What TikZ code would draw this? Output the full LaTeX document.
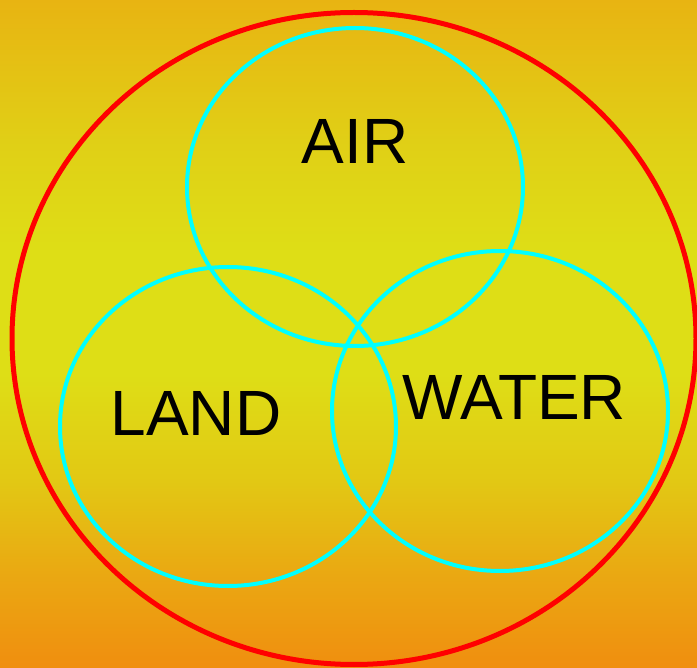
\documentclass[tikz,border=0pt]{standalone}
\usepackage{fontspec}
\setmainfont{Liberation Sans}
\definecolor{ringcyan}{HTML}{00FFFF}
\pgfdeclareverticalshading{bgshade}{100bp}{%
  rgb(0bp)=(0.941,0.557,0.059);
  rgb(25bp)=(0.941,0.557,0.059);
  rgb(32bp)=(0.918,0.659,0.071);
  rgb(39bp)=(0.886,0.784,0.078);
  rgb(47bp)=(0.871,0.871,0.086);
  rgb(56bp)=(0.871,0.871,0.086);
  rgb(64bp)=(0.878,0.816,0.086);
  rgb(75bp)=(0.910,0.706,0.071);
  rgb(100bp)=(0.910,0.706,0.071)}
\tikzset{
  ring/.style={draw=ringcyan, line width=4pt},
  outer/.style={draw=red, line width=5pt},
  lbl/.style={font=\fontsize{64}{64}\selectfont, text=black, inner sep=0pt}
}
\begin{document}
\begin{tikzpicture}[x=1pt,y=-1pt]
\useasboundingbox (0,0) rectangle (697,668);
\shade[shading=bgshade] (0,0) rectangle (697,668);
\draw[outer] (354,338.5) ellipse [x radius=342, y radius=326];
\draw[ring] (355,187) ellipse [x radius=168, y radius=159];
\draw[ring] (228,426.5) ellipse [x radius=168, y radius=159.5];
\draw[ring] (500,411) ellipse [x radius=168, y radius=160];
\node[lbl] (air) at (355,141) {AIR};
\node[lbl] (land) at (196,413) {LAND};
\node[lbl] (water) at (514,397) {WATER};
\end{tikzpicture}
\end{document}
